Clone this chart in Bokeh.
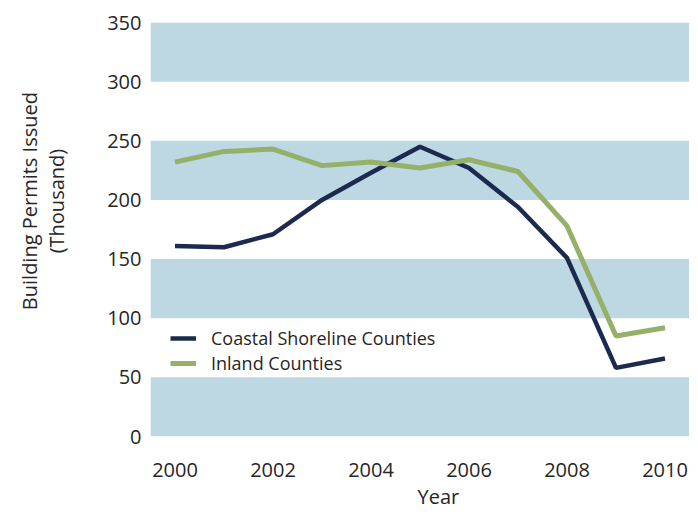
import math
from bokeh.plotting import figure
from bokeh.layouts import row
from bokeh.models import Range1d, FixedTicker, Legend, LegendItem, Title, BoxAnnotation
from bokeh.core.properties import value
from bokeh.embed import file_html
from bokeh.resources import INLINE

years = [2000, 2001, 2002, 2003, 2004, 2005, 2006, 2007, 2008, 2009, 2010]
coastal = [161, 160, 171, 200, 223, 245, 227, 194, 151, 58, 66]
inland = [232, 241, 243, 229, 232, 227, 234, 224, 178, 85, 92]
x_ticks = [2000, 2002, 2004, 2006, 2008, 2010]
y_ticks = [0, 50, 100, 150, 200, 250, 300, 350]
band_lo = [0, 100, 200, 300]
band_hi = [50, 150, 250, 350]
y_title = ["Building Permits Issued", "(Thousand)"]

FONT = "Open Sans"
TXT = "#262626"
NAVY = "#1b2a4e"
GREEN = "#95b068"
BAND = "#bdd7e3"

H = 510
SIDE_W = 80

# left strip holding the two-line y-axis title (pixel coordinates)
side = figure(width=SIDE_W, height=H, output_backend="svg", toolbar_location=None,
              x_range=Range1d(0, SIDE_W), y_range=Range1d(0, H),
              x_axis_location=None, y_axis_location=None,
              min_border=0, min_border_left=0, min_border_right=0,
              min_border_top=0, min_border_bottom=0)
side.outline_line_color = None
side.xgrid.grid_line_color = None
side.ygrid.grid_line_color = None
side.text(x=[29, 56], y=[290, 290], text=y_title, angle=math.pi / 2,
          text_align="center", text_baseline="middle",
          text_font=value(FONT), text_font_size="20px", text_color=TXT)

p = figure(width=689 - SIDE_W, height=H, output_backend="svg", toolbar_location=None,
           x_range=Range1d(1999.5, 2010.5), y_range=Range1d(0, 350),
           min_border_left=150 - SIDE_W, min_border_right=0, min_border_top=22,
           min_border_bottom=74)
p.outline_line_color = None
p.background_fill_color = "white"
p.xgrid.grid_line_color = None
p.ygrid.grid_line_color = None

for lo, hi in zip(band_lo, band_hi):
    p.add_layout(BoxAnnotation(bottom=lo, top=hi, fill_color=BAND, fill_alpha=1.0,
                               line_color=None, level="underlay"))

for ax in (p.xaxis[0], p.yaxis[0]):
    ax.axis_line_color = None
    ax.major_tick_line_color = None
    ax.minor_tick_line_color = None
    ax.major_tick_out = 0
    ax.major_tick_in = 0
    ax.minor_tick_out = 0
    ax.major_label_text_font = FONT
    ax.major_label_text_font_size = "20px"
    ax.major_label_text_color = TXT

p.xaxis.ticker = FixedTicker(ticks=x_ticks)
p.yaxis.ticker = FixedTicker(ticks=y_ticks)
p.xaxis.major_label_standoff = 26
p.yaxis.major_label_standoff = 9

p.add_layout(Title(text="Year", align="left", offset=267, standoff=2,
                   text_font=FONT, text_font_size="20px", text_font_style="normal",
                   text_color=TXT), "below")

r1 = p.line(years, coastal, line_color=NAVY, line_width=4.5)
r2 = p.line(years, inland, line_color=GREEN, line_width=5)

def add_legend(label, rend, y):
    lg = Legend(items=[LegendItem(label=label, renderers=[rend])],
                location=(20, y), padding=0, margin=0, spacing=0,
                glyph_width=26, glyph_height=20, label_standoff=15,
                label_text_font=FONT, label_text_font_size="18px",
                label_text_color=TXT, background_fill_alpha=0,
                border_line_alpha=0)
    p.add_layout(lg, "center")

add_legend("Coastal Shoreline Counties", r1, 86)
add_legend("Inland Counties", r2, 61)

open("out.html", "w").write(file_html(row(side, p), INLINE))
